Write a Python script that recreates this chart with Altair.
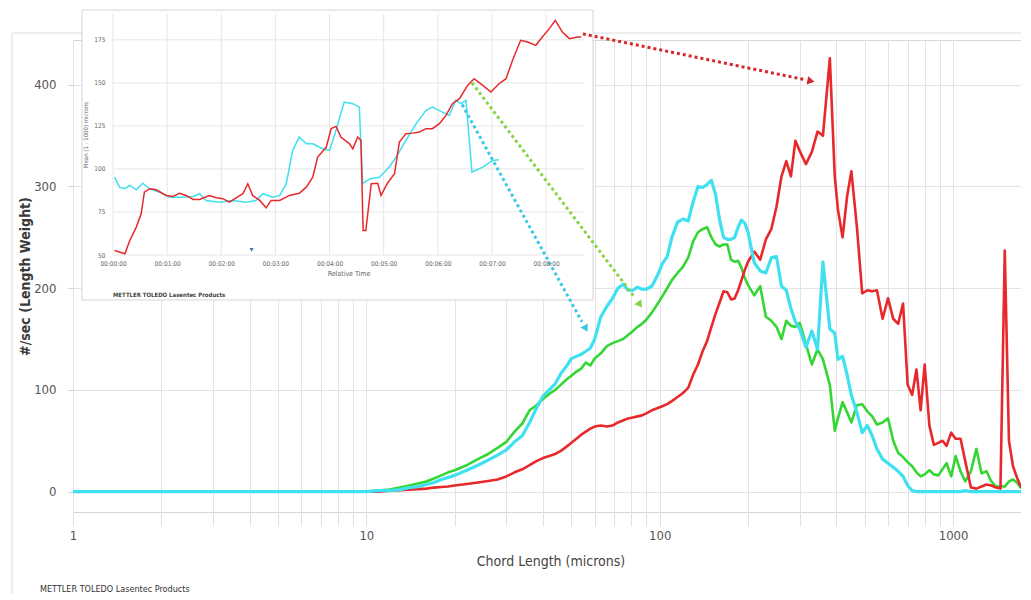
import altair as alt
import pandas as pd

FONT = "Liberation Sans Narrow, DejaVu Sans Condensed, Arial Narrow, sans-serif"

# ---------------- main chart data (chord length in microns) ----------------
chord_um = [1, 2, 5, 10, 11, 12, 13, 14, 15, 16, 17, 18, 19, 20, 22, 24, 26, 28, 30, 32,
            34, 36, 38, 40, 42, 44, 46, 48, 50, 52, 54, 56, 58, 60, 63, 66, 69, 72, 75, 78,
            81, 84, 87, 90, 94, 98, 102, 106, 110, 115, 120, 125, 130, 135, 140, 145, 150,
            155, 160, 165, 170, 175, 180, 185, 190, 195, 200, 210, 220, 230, 240, 250, 260,
            270, 280, 290, 300, 315, 330, 345, 360, 380, 395, 405, 420, 435, 450, 470, 490,
            510, 530, 550, 575, 600, 625, 650, 675, 700, 725, 750, 775, 800, 830, 860, 890,
            920, 950, 985, 1020, 1060, 1100, 1150, 1200, 1250, 1300, 1350, 1400, 1450, 1500,
            1550, 1600, 1650, 1700, 1750, 1800]

red_counts = [0, 0, 0, 0, 0, 1, 1.5, 2, 2.5, 3, 4, 4.5, 5, 6, 7.5, 9, 10.5, 12, 15, 19,
              22, 26, 30, 33, 35, 37, 40, 44, 48, 52, 56, 59, 62, 64, 65, 64, 65, 68, 70, 72,
              73, 74, 75, 77, 80, 82, 84, 86, 89, 93, 97, 102, 115, 125, 138, 148, 162,
              175, 186, 197, 196, 189, 190, 198, 208, 218, 226, 236, 228, 248, 258, 280, 310,
              325, 310, 345, 335, 322, 334, 354, 350, 426, 310, 277, 250, 290, 315, 260, 195,
              198, 197, 198, 170, 190, 170, 165, 185, 105, 95, 120, 80, 125, 65, 46, 48,
              50, 45, 58, 52, 52, 30, 4, 3, 5, 7, 6, 4, 3, 237,
              50, 25, 14, 5, 6, 9]

green_counts = [0, 0, 0, 0, 1, 2, 4, 6, 8, 10, 13, 16, 19, 21, 26, 32, 37, 43, 49, 59,
                67, 80, 85, 91, 96, 100, 105, 110, 114, 118, 121, 127, 124, 131, 136, 143, 146, 148, 150, 154,
                158, 162, 165, 169, 176, 184, 192, 200, 208, 215, 221, 230, 246, 255, 258, 260, 250,
                243, 241, 243, 243, 228, 226, 227, 220, 210, 203, 193, 202, 172, 168, 162, 150,
                168, 163, 162, 166, 145, 125, 140, 130, 105, 60, 72, 88, 78, 68, 85, 86,
                79, 74, 66, 68, 72, 50, 38, 34, 29, 25, 19, 15, 17, 21, 17, 16,
                22, 28, 15, 35, 20, 10, 20, 42, 18, 20, 10, 5, 5, 5,
                10, 12, 9, 4, 10, 19]

cyan_counts = [0, 0, 0, 0, 1, 1, 2, 4, 5, 7, 9, 12, 14, 16, 21, 26, 31, 36, 41, 49,
               55, 68, 82, 94, 100, 106, 116, 123, 131, 133, 135, 138, 141, 150, 172, 182, 190, 200, 204, 198,
               198, 201, 199, 199, 202, 212, 224, 231, 250, 265, 268, 266, 285, 300, 299, 302, 306,
               292, 267, 250, 248, 248, 250, 260, 267, 264, 255, 225, 217, 215, 230, 231, 202,
               198, 180, 167, 160, 142, 158, 140, 226, 160, 156, 130, 133, 115, 95, 78, 58,
               65, 55, 42, 32, 28, 24, 20, 15, 6, 1, 0, 0, 0, 0, 0, 0,
               0, 0, 0, 0, 0, 1, 0, 0, 0, 0, 0, 0, 0, 0,
               0, 0, 0, 0, 0, 0]

# ---------------- inset data (relative time in minutes) ----------------
inset_red_t = [0.03, 0.22, 0.31, 0.43, 0.52, 0.58, 0.68, 0.80, 0.98, 1.11, 1.23, 1.35, 1.48, 1.60,
               1.78, 1.91, 2.03, 2.15, 2.28, 2.40, 2.49, 2.58, 2.71, 2.83, 2.92, 3.08, 3.26, 3.44,
               3.57, 3.69, 3.78, 3.94, 4.03, 4.12, 4.21, 4.37, 4.43, 4.52, 4.58, 4.62, 4.67, 4.77,
               4.89, 4.95, 5.07, 5.20, 5.29, 5.41, 5.54, 5.66, 5.78, 5.90, 6.03, 6.15, 6.27, 6.40,
               6.55, 6.67, 6.83, 6.98, 7.13, 7.26, 7.38, 7.53, 7.66, 7.81, 7.93, 8.06, 8.17, 8.30,
               8.43, 8.58, 8.65]
inset_red_v = [52.6, 50.7, 58.4, 66.2, 73.9, 86.5, 88.5, 87.9, 84.6, 84.0, 85.9, 84.6, 82.3, 82.3,
               84.6, 83.3, 82.7, 80.7, 83.3, 85.6, 91.4, 84.6, 81.7, 77.4, 81.7, 81.7, 84.6, 85.9,
               89.4, 95.2, 106.9, 112.7, 123.4, 124.7, 118.5, 114.6, 111.7, 118.5, 116.6, 64.2, 64.2, 91.4,
               91.7, 84.6, 91.7, 97.2, 115.6, 120.5, 120.8, 121.4, 123.4, 123.4, 126.3, 131.1, 137.9, 140.8,
               148.5, 152.4, 148.5, 144.7, 149.5, 152.4, 163.1, 174.7, 173.7, 171.8, 176.6, 181.5, 186.3, 179.5,
               175.7, 176.6, 176.6]
inset_cyan_t = [0.03, 0.12, 0.22, 0.31, 0.43, 0.55, 0.68, 0.86, 1.05, 1.23, 1.48, 1.60, 1.72, 1.97,
                2.21, 2.46, 2.64, 2.77, 2.95, 3.08, 3.20, 3.32, 3.44, 3.57, 3.69, 3.87, 4.00, 4.12,
                4.27, 4.43, 4.55, 4.61, 4.74, 4.92, 5.10, 5.23, 5.41, 5.60, 5.78, 5.90, 6.03, 6.21,
                6.33, 6.43, 6.52, 6.63, 6.83, 7.01, 7.13]
inset_cyan_v = [95.2, 89.4, 88.5, 90.4, 87.9, 91.7, 88.5, 86.5, 83.6, 83.6, 84.0, 85.6, 81.7, 80.7,
                81.7, 80.7, 81.7, 85.6, 83.6, 84.6, 91.4, 110.8, 118.5, 114.6, 114.6, 111.7, 110.8, 122.4,
                138.8, 137.9, 135.9, 91.4, 94.2, 95.2, 101.0, 106.9, 116.6, 126.3, 133.9, 135.9, 133.9, 131.1,
                139.8, 137.9, 139.8, 98.2, 101.0, 104.9, 105.3]
inset_marker_t = [2.56]
inset_marker_v = [53]
inset_y_ticks = [50, 75, 100, 125, 150, 175]
inset_x_ticks = [0, 1, 2, 3, 4, 5, 6, 7, 8]

# arrows from inset to main distribution (main chart coordinates)
arrow_x1 = [54.7, 22.9, 21.2]
arrow_y1 = [450, 402, 380.5]
arrow_x2 = [312.6, 82.3, 54.3]
arrow_y2 = [405, 190.7, 167.1]
arrow_hx = [327.6, 85.6, 56.0]
arrow_hy = [403.6, 183.8, 160.2]
arrow_ang = [12, 53, 61]
arrow_col = ["#d8262a", "#86d447", "#38c9e6"]

RED, GREEN, CYAN = "#e8282b", "#33d633", "#3fe0ef"

# ---------------- scales / axes ----------------
W, H = 955, 472
x_scale = alt.Scale(type="log", domain=[1, 1800], nice=False)
y_scale = alt.Scale(domain=[-20, 444], nice=False, zero=False)
grid_vals = [m * 10 ** e for e in range(4) for m in range(1, 10) if m * 10 ** e <= 1800]

xaxis = alt.Axis(values=grid_vals,
                 labelExpr="(datum.value==1||datum.value==10||datum.value==100||datum.value==1000) ? format(datum.value,'d') : ''",
                 grid=True, gridColor="#e4e4e4", domain=False, tickSize=14, tickColor="#e0e0e0",
                 labelPadding=3, labelFont=FONT, labelFontSize=13, labelColor="#555",
                 labelOverlap=False, labelFlush=False,
                 titleFont=FONT, titleFontSize=14, titleColor="#444", titleFontWeight="normal", titlePadding=12)
yaxis = alt.Axis(values=[0, 100, 200, 300, 400], grid=True, gridColor="#e4e4e4", domain=False,
                 tickSize=5, tickColor="#d0d0d0", labelPadding=12, labelFont=FONT, labelFontSize=13,
                 labelColor="#555", titleFont=FONT, titleFontSize=14, titleFontWeight="bold",
                 titleColor="#3a3a3a", titleX=-48, titleY=236, titleAlign="center", titleBaseline="middle")

n = len(chord_um)
main_df = pd.DataFrame({
    "um": chord_um * 3,
    "v": red_counts + green_counts + cyan_counts,
    "s": ["red"] * n + ["green"] * n + ["cyan"] * n,
})
one = pd.DataFrame({"a": [0]})


def series_line(name, color, width):
    return alt.Chart(main_df).transform_filter(alt.datum.s == name).mark_line(
        color=color, strokeWidth=width, strokeJoin="round").encode(
        x=alt.X("um:Q", scale=x_scale, axis=xaxis, title="Chord Length (microns)"),
        y=alt.Y("v:Q", scale=y_scale, axis=yaxis, title="#/sec (Length Weight)"))


frame = alt.Chart(one).mark_rect(fill="transparent", stroke="#dcdcdc", strokeWidth=1).encode(
    x=alt.value(-61), x2=alt.value(1000), y=alt.value(-7), y2=alt.value(700))
footer = alt.Chart(pd.DataFrame({"t": ["METTLER TOLEDO Lasentec Products"]})).mark_text(
    align="left", baseline="middle", font=FONT, fontSize=9, color="#333").encode(
    text="t:N", x=alt.value(-33), y=alt.value(549))

main = alt.layer(frame, series_line("green", GREEN, 2.6), series_line("red", RED, 2.6),
                 series_line("cyan", CYAN, 3.2), footer)

# ---------------- inset ----------------
ix_scale = alt.Scale(domain=[0, 8.7], range=[40, 511], nice=False, zero=False)
iy_scale = alt.Scale(domain=[50, 190], range=[215, -26], nice=False, zero=False)
ix_axis = alt.Axis(orient="bottom", offset=-257, values=inset_x_ticks,
                   labelExpr="'00:0' + datum.value + ':00'", grid=False, domain=False, ticks=False,
                   labelPadding=5, labelFont=FONT, labelFontSize=6.5, labelColor="#666", labelFlush=False,
                   titleFont=FONT, titleFontSize=7, titleColor="#666", titleFontWeight="normal",
                   titlePadding=3, zindex=1)
iy_axis = alt.Axis(orient="left", offset=-40, values=inset_y_ticks, grid=False, domain=False, ticks=False,
                   labelPadding=8, labelFont=FONT, labelFontSize=6.5, labelColor="#666",
                   titleFont=FONT, titleFontSize=6, titleColor="#666", titleFontWeight="normal",
                   titlePadding=5, zindex=1)
IX_TITLE = "Relative Time"
IY_TITLE = "Mean (1 - 1000) microns"


def ix(field):
    return alt.X(field, scale=ix_scale, axis=ix_axis, title=IX_TITLE)


def iy(field):
    return alt.Y(field, scale=iy_scale, axis=iy_axis, title=IY_TITLE)


inset_box = alt.Chart(one).mark_rect(fill="white", stroke="#d5d5d5", strokeWidth=1).encode(
    x=alt.value(9), x2=alt.value(520), y=alt.value(-30), y2=alt.value(260))
hgrid = alt.Chart(pd.DataFrame({"v": inset_y_ticks, "t0": [0] * 6, "t1": [8.7] * 6})).mark_rule(
    color="#e6e6e6", strokeWidth=1).encode(y=iy("v:Q"), x=ix("t0:Q"), x2="t1:Q")
vgrid = alt.Chart(pd.DataFrame({"t": inset_x_ticks, "v0": [50] * 9, "v1": [190] * 9})).mark_rule(
    color="#e6e6e6", strokeWidth=1).encode(x=ix("t:Q"), y=iy("v0:Q"), y2="v1:Q")


def inset_line(ts, vs, color):
    return alt.Chart(pd.DataFrame({"t": ts, "v": vs})).mark_line(color=color, strokeWidth=1.5).encode(
        x=ix("t:Q"), y=iy("v:Q"))


marker = alt.Chart(pd.DataFrame({"t": inset_marker_t, "v": inset_marker_v})).mark_point(
    shape="triangle-down", filled=True, size=18, color="#4a78c0", opacity=1).encode(
    x=ix("t:Q"), y=iy("v:Q"))
inset_footer = alt.Chart(pd.DataFrame({"t": ["METTLER TOLEDO Lasentec Products"]})).mark_text(
    align="left", baseline="middle", font=FONT, fontSize=6, fontWeight="bold", color="#444").encode(
    text="t:N", x=alt.value(40), y=alt.value(255))

inset = alt.layer(inset_box, hgrid, vgrid, inset_line(inset_cyan_t, inset_cyan_v, CYAN),
                  inset_line(inset_red_t, inset_red_v, RED), marker, inset_footer)

# ---------------- arrows ----------------
arrow_df = pd.DataFrame({"x1": arrow_x1, "y1": arrow_y1, "x2": arrow_x2, "y2": arrow_y2,
                         "hx": arrow_hx, "hy": arrow_hy, "ang": arrow_ang, "col": arrow_col})
arrow_lines = alt.Chart(arrow_df).mark_rule(strokeWidth=3, strokeDash=[3, 3]).encode(
    x=alt.X("x1:Q", scale=x_scale, axis=None), x2="x2:Q",
    y=alt.Y("y1:Q", scale=y_scale, axis=None), y2="y2:Q",
    color=alt.Color("col:N", scale=None))
arrow_heads = alt.Chart(arrow_df).mark_point(shape="triangle-right", filled=True, size=70, opacity=1).encode(
    x=alt.X("hx:Q", scale=x_scale, axis=None), y=alt.Y("hy:Q", scale=y_scale, axis=None),
    angle=alt.Angle("ang:Q", scale=None), color=alt.Color("col:N", scale=None))
arrows = alt.layer(arrow_lines, arrow_heads)

chart = alt.layer(main, inset, arrows).resolve_scale(x="independent", y="independent").properties(
    width=W, height=H, padding={"left": 65, "top": 32, "right": -7, "bottom": 82},
    autosize=alt.AutoSizeParams(type="none"), background="white"
).configure_view(stroke="#d6d6d6")

chart.save("out.html", embed_options={"renderer": "svg", "actions": False})
